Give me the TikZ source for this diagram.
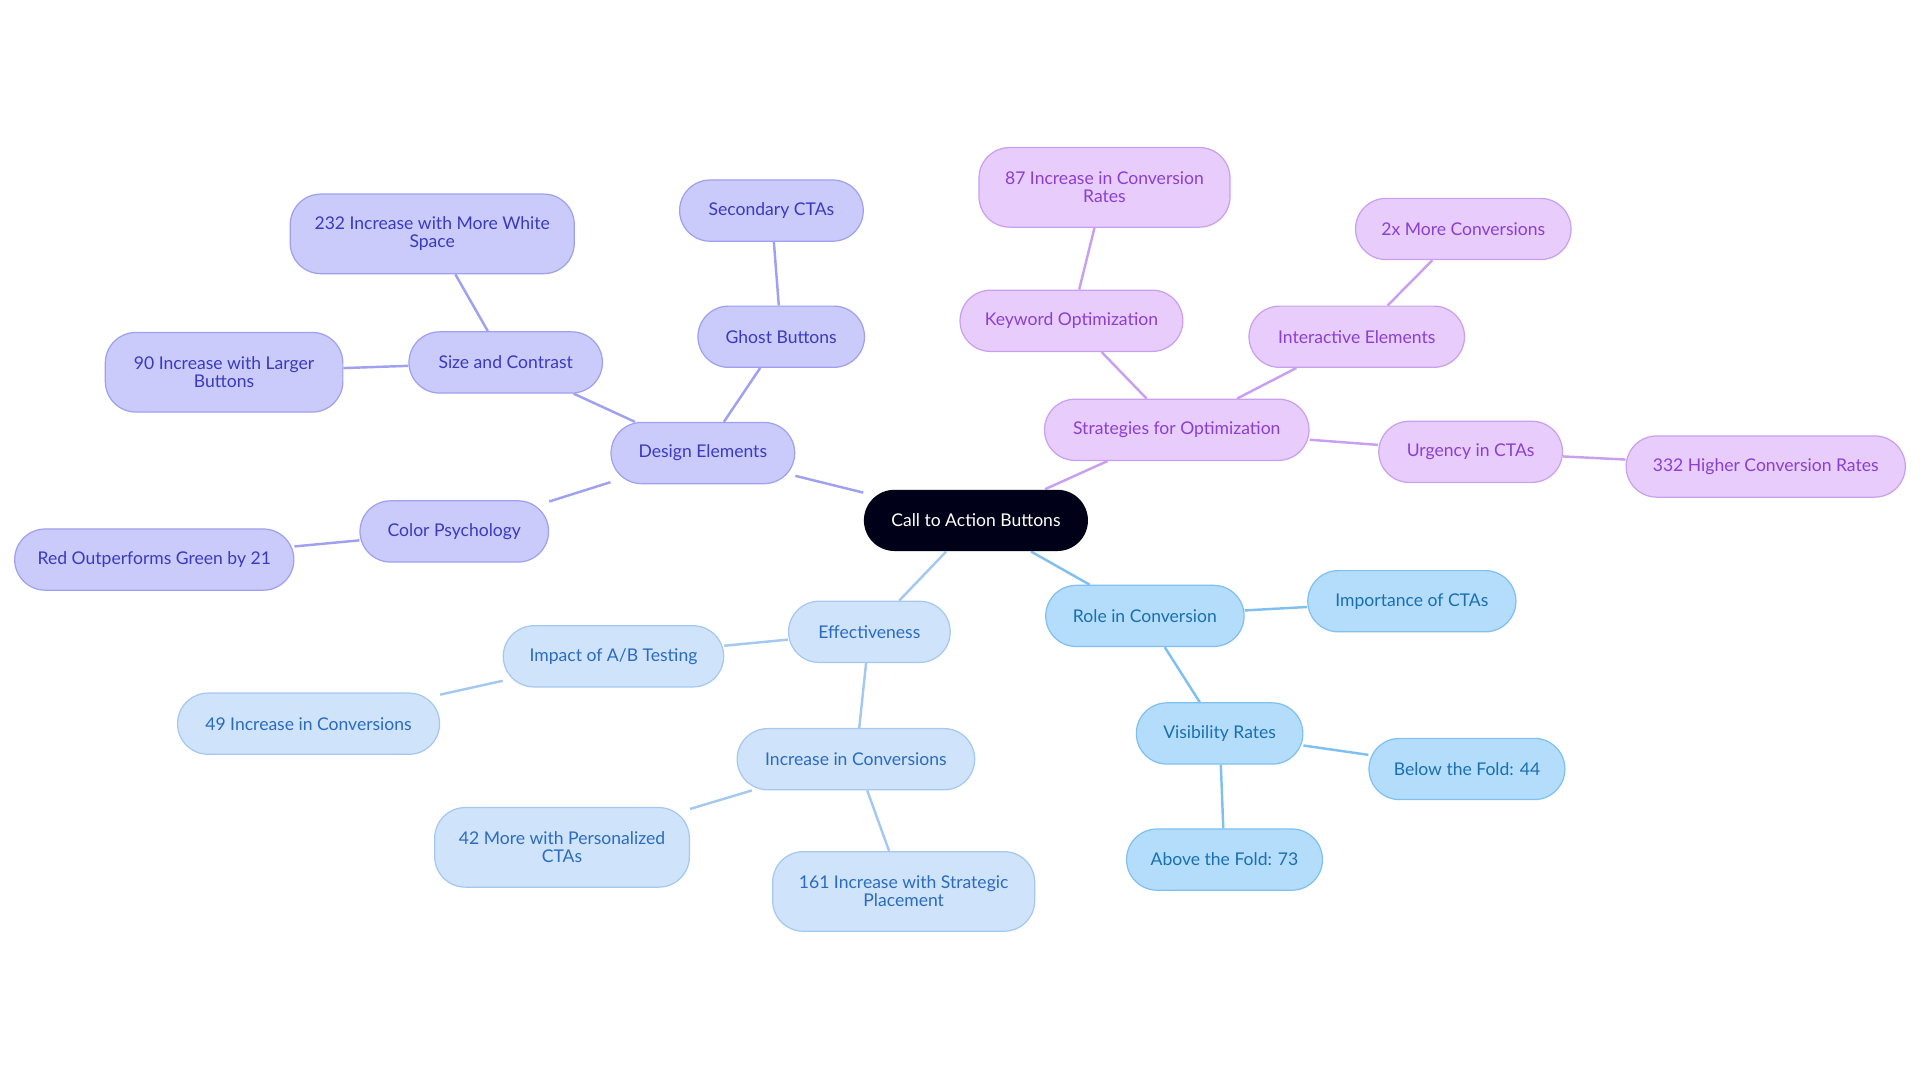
\documentclass[tikz,border=0pt]{standalone}
\usepackage{fontspec}
\setmainfont{Lato}
\usetikzlibrary{backgrounds}
\definecolor{pf}{HTML}{E8CCFB}\definecolor{ps}{HTML}{C9A0F0}\definecolor{pt}{HTML}{8A3FD1}
\definecolor{if}{HTML}{CACAFB}\definecolor{is}{HTML}{A0A0F0}\definecolor{it}{HTML}{3A3AC0}
\definecolor{lf}{HTML}{CFE3FB}\definecolor{ls}{HTML}{A5C8F0}\definecolor{lt}{HTML}{2A6BC0}
\definecolor{sf}{HTML}{B3DDFB}\definecolor{ss}{HTML}{80C0F0}\definecolor{st}{HTML}{1A6FB0}
\tikzset{
 n/.style={rounded corners=15pt,minimum height=30pt,inner sep=1pt,align=center,font=\fontsize{8.6}{8.8}\selectfont,line width=0.6pt,minimum width=#1*0.6pt},
 tall/.style={minimum height=39pt},
 P/.style={n=#1,fill=pf,draw=ps,text=pt},
 I/.style={n=#1,fill=if,draw=is,text=it},
 L/.style={n=#1,fill=lf,draw=ls,text=lt},
 S/.style={n=#1,fill=sf,draw=ss,text=st},
 e/.style={line width=1.2pt}
}
\begin{document}
\begin{tikzpicture}[x=0.6pt,y=-0.6pt]
\useasboundingbox (0,0) rectangle (1568,884);
\node[n=183,fill=black!90!blue,text=white] (root) at (797,425) {Call to Action Buttons};
\node[I=150] (de) at (574,370) {Design Elements};
\node[I=158] (sc) at (413,296) {Size and Contrast};
\node[I=232,tall] (ws) at (353,191) {232 Increase with More White\\Space};
\node[I=194,tall] (lb) at (183,304) {90 Increase with Larger\\Buttons};
\node[I=136] (gb) at (638,275) {Ghost Buttons};
\node[I=150] (sec) at (630,172) {Secondary CTAs};
\node[I=154] (cp) at (371,434) {Color Psychology};
\node[I=228] (rg) at (126,457) {Red Outperforms Green by 21};
\node[P=216] (so) at (961,351) {Strategies for Optimization};
\node[P=182] (ko) at (875,262) {Keyword Optimization};
\node[P=205,tall] (k87) at (902,153) {87 Increase in Conversion\\Rates};
\node[P=176] (ie) at (1108,275) {Interactive Elements};
\node[P=176] (x2) at (1195,187) {2x More Conversions};
\node[P=150] (ur) at (1201,369) {Urgency in CTAs};
\node[P=228] (h332) at (1442,381) {332 Higher Conversion Rates};
\node[L=132] (ef) at (710,516) {Effectiveness};
\node[L=180] (ab) at (501,536) {Impact of A/B Testing};
\node[L=214] (c49) at (252,591) {49 Increase in Conversions};
\node[L=194] (ic) at (699,620) {Increase in Conversions};
\node[L=208,tall] (p42) at (459,692) {42 More with Personalized\\CTAs};
\node[L=214,tall] (s161) at (738,728) {161 Increase with Strategic\\Placement};
\node[S=162] (rc) at (935,503) {Role in Conversion};
\node[S=170] (im) at (1153,491) {Importance of CTAs};
\node[S=136] (vr) at (996,599) {Visibility Rates};
\node[S=160] (bf) at (1198,628) {Below the Fold: 44};
\node[S=160] (af) at (1000,702) {Above the Fold: 73};
\begin{scope}[on background layer]
\draw[e,is] (root)--(de) (de)--(sc) (sc)--(ws) (sc)--(lb) (de)--(gb) (gb)--(sec) (de)--(cp) (cp)--(rg);
\draw[e,ps] (root)--(so) (so)--(ko) (ko)--(k87) (so)--(ie) (ie)--(x2) (so)--(ur) (ur)--(h332);
\draw[e,ls] (root)--(ef) (ef)--(ab) (ab)--(c49) (ef)--(ic) (ic)--(p42) (ic)--(s161);
\draw[e,ss] (root)--(rc) (rc)--(im) (rc)--(vr) (vr)--(bf) (vr)--(af);
\end{scope}
\end{tikzpicture}
\end{document}
